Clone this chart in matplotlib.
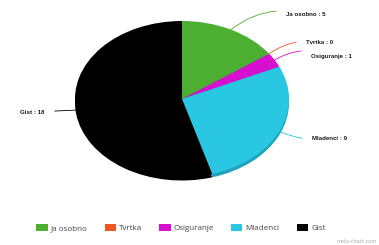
import matplotlib
matplotlib.use("Agg")
import matplotlib.pyplot as plt
from matplotlib.patches import Patch
import numpy as np

# data
labels = ["Ja osobno", "Tvrtka", "Osiguranje", "Mladenci", "Gist"]
values = [5, 0, 1, 9, 18]
colors = ["#4daf32", "#f0571f", "#d70fd0", "#29c7e1", "#000000"]
side_colors = ["#3d8c28", "#c04619", "#ac0ca6", "#1fa3ba", "#000000"]

# label text anchors in figure pixels (image coords, y from top)
label_pos = [(286, 14), (306, 42), (311, 56), (312, 138), (45, 112)]
label_rad = [0.25, 0.2, 0.25, -0.15, 0.0]

W, H = 379, 245
fig = plt.figure(figsize=(W / 100, H / 100), dpi=100)
fig.patch.set_facecolor("white")

# axes box = bounding box of the ellipse
cx, cy, rx, ry = 182, 99, 107, 78
ax = fig.add_axes([(cx - rx) / W, (H - cy - ry) / H, 2 * rx / W, 2 * ry / H])

# thin 3d side drawn first, shifted down
ax.pie(values, colors=side_colors, startangle=90, counterclock=False,
       radius=1, center=(0, -0.045), wedgeprops=dict(linewidth=0))
wedges, _ = ax.pie(values, colors=colors, startangle=90, counterclock=False,
                   radius=1, wedgeprops=dict(linewidth=0))
ax.set_aspect("auto")
ax.set_xlim(-1, 1)
ax.set_ylim(-1, 1)
ax.axis("off")

total = sum(values)
start = 0.0
for i, (lab, v) in enumerate(zip(labels, values)):
    mid = np.deg2rad((start + v / 2) / total * 360)
    start += v
    px, py = np.sin(mid), np.cos(mid)
    tx, ty = label_pos[i]
    ha = "right" if px < 0 else "left"
    ax.annotate(f"{lab} : {v}", xy=(px, py), xytext=(tx, H - ty),
                textcoords="figure pixels", ha=ha, va="center",
                fontsize=4.4, fontweight="bold", family="Liberation Sans",
                color="#1a1a1a", annotation_clip=False,
                arrowprops=dict(arrowstyle="-", color=colors[i], lw=0.6,
                                shrinkA=5, shrinkB=0,
                                connectionstyle=f"arc3,rad={label_rad[i]}"))

handles = [Patch(facecolor=c, edgecolor="none") for c in colors]
fig.legend(handles, labels, loc="center", ncol=5, frameon=False,
           bbox_to_anchor=(181 / W, (H - 228) / H),
           prop=dict(family="Open Sans", size=5.8), labelcolor="#444444",
           handlelength=1.4, handleheight=1.1, handletextpad=0.4,
           columnspacing=2.1)

fig.text(377 / W, 1.5 / H, "meta-chart.com", ha="right", va="bottom",
         fontsize=3.6, color="#aaaaaa", family="DejaVu Sans")

fig.savefig("out.png", dpi=100, facecolor="white")
